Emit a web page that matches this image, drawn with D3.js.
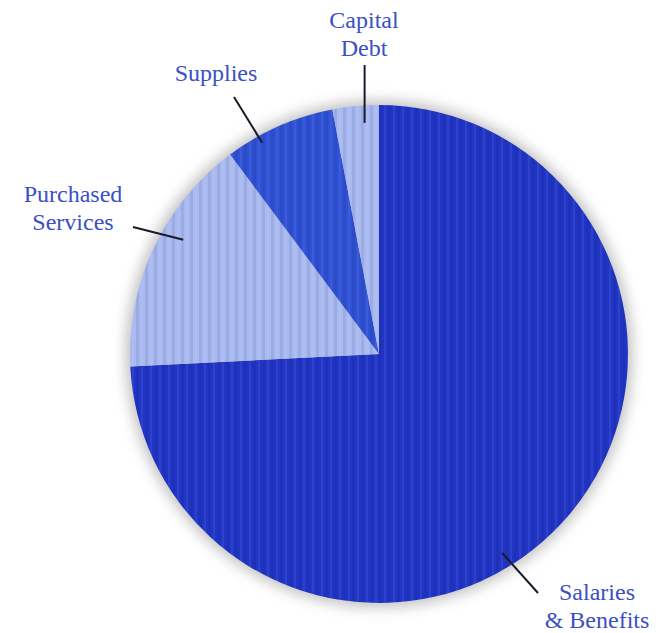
<!DOCTYPE html>
<html><head><meta charset="utf-8">
<script src="https://cdn.jsdelivr.net/npm/d3@7"></script>
<style>html,body{margin:0;padding:0;background:#fff;}svg{display:block;}</style>
</head><body>
<script>
const categories = ["Salaries & Benefits", "Purchased Services", "Supplies", "Capital Debt"];
const values = [74.2, 15.6, 7.2, 3.0];
const labelLines = [["Salaries", "& Benefits"], ["Purchased", "Services"], ["Supplies"], ["Capital", "Debt"]];
const colors = ["#2035c6", "#a9b9f1", "#2f51d6", "#a9b9f1"];

const W = 665, H = 633, cx = 379, cy = 354, R = 249;
const svg = d3.select("body").append("svg").attr("width", W).attr("height", H);
const defs = svg.append("defs");
const f = defs.append("filter").attr("id","sh").attr("x","-20%").attr("y","-20%").attr("width","140%").attr("height","140%");
f.append("feGaussianBlur").attr("stdDeviation", 7);
const pat = defs.append("pattern").attr("id","stripe").attr("patternUnits","userSpaceOnUse").attr("width",9).attr("height",9);
pat.append("rect").attr("x",0).attr("y",0).attr("width",3).attr("height",9).attr("fill","#000").attr("opacity",0.07);
pat.append("rect").attr("x",5).attr("y",0).attr("width",2).attr("height",9).attr("fill","#fff").attr("opacity",0.06);

const g = svg.append("g").attr("transform", `translate(${cx},${cy})`);
g.append("circle").attr("r", R + 4).attr("fill", "#8a8a8a").attr("opacity", 0.55).attr("filter", "url(#sh)");

// Clockwise from top: Salaries first, then Purchased, Supplies, Capital Debt
const pie = d3.pie().sort(null).value(d => d)(values);
const arc = d3.arc().innerRadius(0).outerRadius(R);
g.selectAll("path.s").data(pie).join("path").attr("class","s")
  .attr("d", arc).attr("fill", (d,i) => colors[i]);
g.selectAll("path.t").data(pie).join("path").attr("class","t")
  .attr("d", arc).attr("fill", "url(#stripe)");

// label layout (leader anchor angle fraction within slice, radius, leader end, text position)
const layout = [
  {frac: 0.555, r0: 0.94, end: [538, 593], tx: 597, ty: [600, 628]},
  {frac: 0.59, r0: 0.91, end: [133, 227], tx: 73, ty: [202, 230]},
  {frac: 0.30, r0: 0.97, end: [234, 97], tx: 216, ty: [81]},
  {frac: 0.67, r0: 0.93, end: null, tx: 364, ty: [28, 56]}
];
const pt = (a, r) => [cx + Math.sin(a) * r, cy - Math.cos(a) * r];
pie.forEach((d, i) => {
  const L = layout[i];
  const a = d.startAngle + (d.endAngle - d.startAngle) * L.frac;
  const p0 = pt(a, R * L.r0);
  const p1 = L.end ? L.end : [p0[0], 65];
  svg.append("line").attr("x1", p0[0]).attr("y1", p0[1]).attr("x2", p1[0]).attr("y2", p1[1])
    .attr("stroke", "#1a1a2a").attr("stroke-width", 2);
  labelLines[i].forEach((s, j) => svg.append("text").attr("text-anchor", "middle")
    .attr("font-family", "'Liberation Serif', 'DejaVu Serif', serif").attr("font-size", 24)
    .attr("fill", "#3b4fc4").attr("x", L.tx).attr("y", L.ty[j]).text(s));
});
</script>
</body></html>
